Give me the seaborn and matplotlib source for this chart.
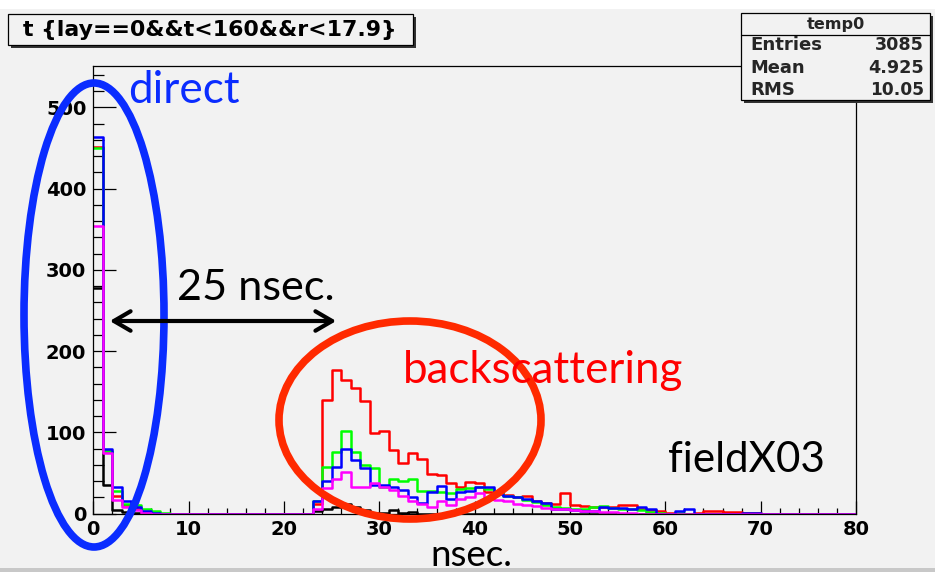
import numpy as np
import pandas as pd
import matplotlib
matplotlib.use("Agg")
import matplotlib.pyplot as plt
import seaborn as sns
from matplotlib.patches import Ellipse, Rectangle, FancyArrowPatch
from matplotlib.lines import Line2D
from matplotlib.ticker import MultipleLocator

W, H = 935, 572

# ---------------- data (counts per 1 ns bin, 0..80 ns) ----------------
bin_edges = list(range(0, 81))

black_counts = [278, 35, 4, 2, 1, 0, 0, 0, 0, 0,
                0, 0, 0, 0, 0, 0, 0, 0, 0, 0,
                0, 0, 0, 3, 6, 8, 12, 8, 4, 1,
                1, 4, 1, 2, 0, 0, 0, 0, 0, 0,
                0, 0, 0, 0, 0, 0, 0, 0, 0, 0,
                0, 0, 0, 0, 0, 0, 0, 0, 0, 0,
                0, 0, 0, 0, 0, 0, 0, 0, 0, 0,
                0, 0, 0, 0, 0, 0, 0, 0, 0, 0]

red_counts = [451, 77, 22, 10, 5, 2, 0, 0, 0, 0,
              0, 0, 0, 0, 0, 0, 0, 0, 0, 0,
              0, 0, 0, 12, 140, 177, 164, 154, 138, 99,
              101, 78, 62, 74, 67, 49, 48, 37, 33, 39,
              38, 26, 25, 23, 20, 22, 15, 13, 12, 25,
              11, 9, 8, 8, 8, 11, 10, 6, 4, 3,
              1, 0, 0, 1, 3, 3, 2, 2, 1, 1,
              0, 0, 0, 0, 0, 0, 0, 0, 0, 0]

green_counts = [450, 77, 28, 12, 10, 6, 3, 1, 0, 0,
                0, 0, 0, 0, 0, 0, 0, 0, 0, 0,
                0, 0, 0, 15, 57, 76, 101, 76, 60, 56,
                33, 43, 40, 42, 28, 28, 26, 25, 30, 32,
                33, 30, 25, 22, 20, 17, 14, 10, 8, 7,
                6, 5, 8, 9, 7, 6, 5, 4, 2, 1,
                0, 1, 0, 0, 0, 0, 0, 0, 0, 0,
                0, 0, 0, 0, 0, 0, 0, 0, 0, 0]

blue_counts = [463, 79, 33, 15, 8, 3, 1, 0, 0, 0,
               0, 0, 0, 0, 0, 0, 0, 0, 0, 0,
               0, 0, 0, 16, 40, 57, 80, 66, 56, 35,
               35, 33, 29, 20, 13, 27, 34, 18, 26, 28,
               33, 33, 24, 22, 20, 18, 16, 13, 6, 5,
               4, 3, 3, 8, 7, 7, 6, 8, 5, 0,
               0, 3, 5, 0, 0, 0, 0, 0, 1, 1,
               0, 0, 0, 0, 0, 0, 0, 0, 0, 0]

magenta_counts = [354, 74, 17, 8, 4, 1, 0, 0, 0, 0,
                  0, 0, 0, 0, 0, 0, 0, 0, 0, 0,
                  0, 0, 0, 6, 31, 43, 51, 33, 33, 37,
                  33, 29, 22, 15, 12, 8, 15, 10, 18, 20,
                  25, 18, 17, 15, 12, 11, 9, 7, 6, 5,
                  4, 3, 3, 2, 2, 1, 1, 0, 0, 0,
                  0, 0, 0, 0, 0, 0, 0, 0, 0, 0,
                  0, 0, 0, 0, 0, 0, 0, 0, 0, 0]

series_names = ["black", "red", "green", "blue", "magenta"]
series_colors = ["#000000", "#ff0000", "#00ff00", "#0000ff", "#ff00ff"]
series_counts = [black_counts, red_counts, green_counts, blue_counts, magenta_counts]

x_ticks = [0, 10, 20, 30, 40, 50, 60, 70, 80]
y_ticks = [0, 100, 200, 300, 400, 500]

title_text = "t {lay==0&&t<160&&r<17.9}"
stats_title = "temp0"
stats_rows = [("Entries", "3085"), ("Mean", "4.925"), ("RMS", "10.05")]

# ---------------- figure ----------------
sns.set_theme(style="ticks")
plt.rcParams["font.family"] = ["DejaVu Sans"]
BG = "#f2f2f2"

fig = plt.figure(figsize=(W / 100, H / 100), dpi=100, facecolor=BG)


def fx(x):
    return x / W


def fy(y):
    return 1 - y / H


ax_l, ax_r, ax_t, ax_b = 93.3, 856.0, 66.0, 513.5
ax = fig.add_axes([fx(ax_l), fy(ax_b), (ax_r - ax_l) / W, (ax_b - ax_t) / H])
ax.set_facecolor(BG)

edges = np.array(bin_edges, dtype=float)
centers = edges[:-1] + 0.5
for name, col, counts in zip(series_names, series_colors, series_counts):
    df = pd.DataFrame({"t": centers, "n": counts})
    sns.histplot(data=df, x="t", weights="n", binwidth=1, binrange=(edges[0], edges[-1]),
                 element="step", fill=False, color=col, linewidth=1.8, ax=ax)

ax.set_xlim(0, 80)
ax.set_ylim(0, 551)
ax.set_xlabel("")
ax.set_ylabel("")
ax.set_xticks(x_ticks)
ax.set_yticks(y_ticks)
ax.xaxis.set_minor_locator(MultipleLocator(2))
ax.yaxis.set_minor_locator(MultipleLocator(20))
ax.tick_params(which="both", direction="in", color="black", width=0.9)
ax.tick_params(axis="x", which="major", length=13 * 0.72, pad=5)
ax.tick_params(axis="x", which="minor", length=6.5 * 0.72)
ax.tick_params(axis="y", which="major", length=23 * 0.72, pad=5)
ax.tick_params(axis="y", which="minor", length=11.5 * 0.72)
for lab in ax.get_xticklabels() + ax.get_yticklabels():
    lab.set_fontweight("bold")
    lab.set_fontsize(14)
    lab.set_color("black")
for s in ax.spines.values():
    s.set_visible(True)
    s.set_color("black")
    s.set_linewidth(0.9)

# ---------------- screenshot strips ----------------
fig.add_artist(Rectangle((0, fy(9)), 1, 9 / H, transform=fig.transFigure,
                         facecolor="white", edgecolor="none", zorder=-1))
fig.add_artist(Rectangle((0, 0), 1, 4 / H, transform=fig.transFigure,
                         facecolor="#c8c8c8", edgecolor="none", zorder=-1))

renderer = fig.canvas.get_renderer()


def fit_text(x, y, s, width, ha="left", va="baseline", **kw):
    t = fig.text(fx(x), fy(y), s, ha=ha, va=va, fontsize=10, **kw)
    w = t.get_window_extent(renderer).width
    t.set_fontsize(10 * width / w)
    return t


def box(x0, y0, x1, y1, z=6):
    # shadow
    fig.add_artist(Rectangle((fx(x0 + 3), fy(y1 + 3)), (x1 - x0) / W, (y1 - y0) / H,
                             transform=fig.transFigure, facecolor="#333333",
                             edgecolor="none", zorder=z))
    fig.add_artist(Rectangle((fx(x0), fy(y1)), (x1 - x0) / W, (y1 - y0) / H,
                             transform=fig.transFigure, facecolor=BG,
                             edgecolor="black", linewidth=0.9, zorder=z + 0.1))


# title box
box(8, 14, 413, 45)
t = fit_text(210, 30, title_text, 372, ha="center", va="center",
             fontweight="bold", color="black", zorder=7)

# stats box
box(741, 13, 930, 100)
fig.add_artist(Line2D([fx(741), fx(930)], [fy(35), fy(35)], transform=fig.transFigure,
                      color="black", linewidth=0.9, zorder=7))
fit_text(836, 24, stats_title, 58, ha="center", va="center", fontweight="bold", zorder=7)
row_y = [45, 68, 90]
left_w = {"Entries": 72, "Mean": 55, "RMS": 45}
right_w = {"3085": 49, "4.925": 56, "10.05": 54}
for (k, v), yy in zip(stats_rows, row_y):
    fit_text(750, yy, k, left_w[k], ha="left", va="center", fontweight="bold", zorder=7)
    fit_text(924, yy, v, right_w[v], ha="right", va="center", fontweight="bold", zorder=7)

# ---------------- annotations ----------------
ANN = ["Lato", "DejaVu Sans"]
fit_text(128, 103, "direct", 112, color="#0a2cff", family=ANN, zorder=10)
fit_text(177, 300, "25 nsec.", 158, color="black", family=ANN, zorder=10)
fit_text(403, 383, "backscattering", 280, color="#ff0000", family=ANN, zorder=10)
fit_text(668, 472, "fieldX03", 157, color="black", family=ANN, zorder=10)
fit_text(430, 566, "nsec.", 82, color="black", family=ANN, zorder=10)

blue_ell = Ellipse((fx(94), fy(315)), 140 / W, 464 / H, transform=fig.transFigure,
                   fill=False, edgecolor="#0a2cff", linewidth=5.5, zorder=9)
fig.add_artist(blue_ell)
red_ell = Ellipse((fx(410), fy(420)), 262 / W, 198 / H, transform=fig.transFigure,
                  fill=False, edgecolor="#ff2a00", linewidth=5.5, zorder=9)
fig.add_artist(red_ell)

arrow = FancyArrowPatch((fx(107), fy(321)), (fx(339), fy(321)), transform=fig.transFigure,
                        arrowstyle="<->,head_length=12,head_width=7", color="black",
                        linewidth=3, zorder=10)
fig.add_artist(arrow)

fig.savefig("out.png", dpi=100, facecolor=BG)
